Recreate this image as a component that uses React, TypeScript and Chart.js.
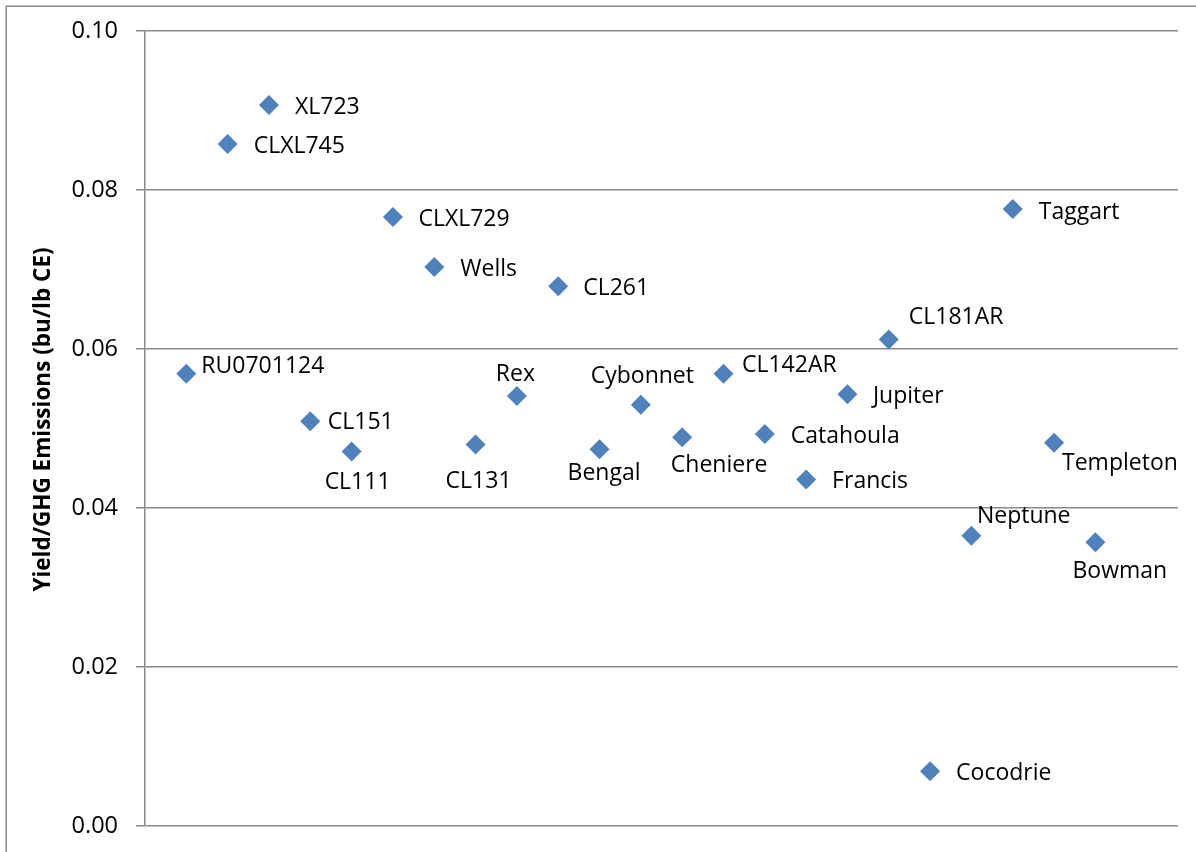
import React, { useEffect, useRef } from "react";
import { Chart, registerables } from "chart.js";

Chart.register(...registerables);

// ---- Data ----
const varieties: string[] = [
  "RU0701124", "CLXL745", "XL723", "CL151", "CL111", "CLXL729", "Wells", "CL131",
  "Rex", "CL261", "Bengal", "Cybonnet", "Cheniere", "CL142AR", "Catahoula", "Francis",
  "Jupiter", "CL181AR", "Cocodrie", "Neptune", "Taggart", "Templeton", "Bowman",
];

const yieldPerGhg: number[] = [
  0.0569, 0.0858, 0.0907, 0.0509, 0.0471, 0.0766, 0.0703, 0.0480,
  0.0541, 0.0679, 0.0474, 0.0530, 0.0489, 0.0569, 0.0493, 0.0436,
  0.0543, 0.0612, 0.0069, 0.0365, 0.0776, 0.0482, 0.0357,
];

const yTicks: number[] = [0, 0.02, 0.04, 0.06, 0.08, 0.1];
const yAxisTitle = "Yield/GHG Emissions (bu/lb CE)";

// ---- Label placement (style only): [dx, dy, align] relative to the marker ----
const labelPlacement: [number, number, CanvasTextAlign][] = [
  [15, -9, "left"],    // RU0701124
  [26, 0.5, "left"],   // CLXL745
  [26, 1, "left"],     // XL723
  [17.5, -1, "left"],  // CL151
  [6, 29, "center"],   // CL111
  [25.5, 0.5, "left"], // CLXL729
  [26, 0.5, "left"],   // Wells
  [3, 35, "center"],   // CL131
  [-1.5, -23.5, "center"], // Rex
  [25, 1, "left"],     // CL261
  [4.5, 23, "center"], // Bengal
  [1.5, -29.5, "center"], // Cybonnet
  [37, 26.5, "center"],   // Cheniere
  [18.5, -10, "left"], // CL142AR
  [26, 0.5, "left"],   // Catahoula
  [26, 0.5, "left"],   // Francis
  [25.5, 0, "left"],   // Jupiter
  [20, -24, "left"],   // CL181AR
  [26, 0.5, "left"],   // Cocodrie
  [5.5, -21.5, "left"],  // Neptune
  [26, 2, "left"],     // Taggart
  [8, 18.5, "left"],   // Templeton
  [24.5, 27.5, "center"], // Bowman
];

const FONT = "'Open Sans', 'DejaVu Sans', sans-serif";
const GRID = "#8a8a8a";
const MARKER = "#4F81BD";

const annotatePlugin = {
  id: "annotate",
  beforeDraw(chart: any) {
    const ctx = chart.ctx as CanvasRenderingContext2D;
    ctx.save();
    ctx.fillStyle = "#ffffff";
    ctx.fillRect(0, 0, chart.width, chart.height);
    ctx.strokeStyle = GRID;
    ctx.lineWidth = 1.5;
    ctx.strokeRect(6.25, 6.25, chart.width + 50, chart.height + 50);
    ctx.restore();
  },
  afterDatasetsDraw(chart: any) {
    const ctx = chart.ctx as CanvasRenderingContext2D;
    const meta = chart.getDatasetMeta(0);
    ctx.save();
    ctx.font = `23px ${FONT}`;
    ctx.fillStyle = "#000000";
    ctx.textBaseline = "alphabetic";
    meta.data.forEach((pt: any, i: number) => {
      const [dx, dy, align] = labelPlacement[i];
      ctx.textAlign = align;
      ctx.fillText(varieties[i], pt.x + dx, pt.y + dy + 8.2);
    });
    ctx.restore();
  },
  afterDraw(chart: any) {
    const ctx = chart.ctx as CanvasRenderingContext2D;
    const area = chart.chartArea;
    ctx.save();
    ctx.translate(50, (area.top + area.bottom) / 2 - 9);
    ctx.rotate(-Math.PI / 2);
    ctx.font = `bold 22.5px ${FONT}`;
    ctx.fillStyle = "#000000";
    ctx.textAlign = "center";
    ctx.textBaseline = "alphabetic";
    ctx.fillText(yAxisTitle, 0, 0);
    ctx.restore();
  },
};

export default function App() {
  const canvasRef = useRef<HTMLCanvasElement | null>(null);

  useEffect(() => {
    if (!canvasRef.current) return;
    const chart = new Chart(canvasRef.current, {
      type: "scatter",
      data: {
        datasets: [
          {
            label: "Yield/GHG",
            data: yieldPerGhg.map((v, i) => ({ x: i + 1, y: v })),
            pointStyle: "rectRot",
            pointRadius: 10,
            pointHoverRadius: 10,
            pointBorderWidth: 0,
            backgroundColor: MARKER,
            borderColor: MARKER,
          },
        ],
      },
      options: {
        animation: false,
        responsive: false,
        events: [],
        layout: { padding: { left: 0, top: 31, right: 18, bottom: 26 } },
        plugins: {
          legend: { display: false },
          tooltip: { enabled: false },
        },
        scales: {
          x: {
            type: "linear",
            min: 0,
            max: 25,
            display: false,
          },
          y: {
            type: "linear",
            min: 0,
            max: 0.1,
            afterFit: (scale: any) => {
              scale.width = 145;
              scale.paddingTop = 0;
              scale.paddingBottom = 0;
            },
            afterBuildTicks: (scale: any) => {
              scale.ticks = yTicks.map((v) => ({ value: v }));
            },
            ticks: {
              padding: 18,
              color: "#000000",
              font: { family: FONT, size: 23.5 },
              callback: (v: any) => Number(v).toFixed(2),
            },
            grid: {
              color: GRID,
              lineWidth: 1.5,
              tickLength: 9,
              drawTicks: true,
            },
            border: { display: true, color: GRID, width: 1.5 },
            title: { display: false },
          },
        },
      },
      plugins: [annotatePlugin],
    });
    return () => chart.destroy();
  }, []);

  return (
    <div style={{ position: "absolute", left: 0, top: 0, width: 1196, height: 852, background: "#fff" }}>
      <canvas ref={canvasRef} width={1196} height={852} />
    </div>
  );
}
